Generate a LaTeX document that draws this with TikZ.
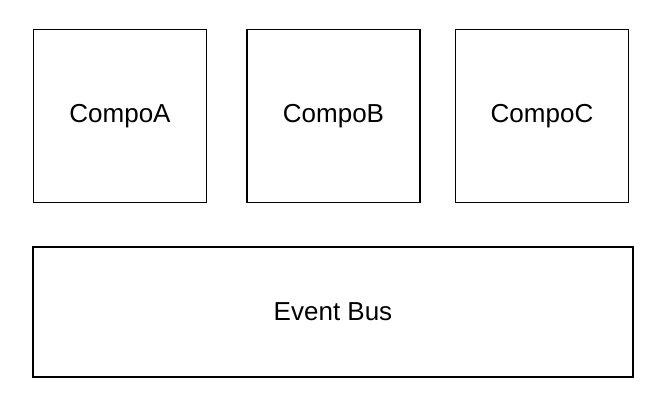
\documentclass[tikz,border=0pt]{standalone}
\usepackage{fontspec}
\setmainfont{Liberation Sans}
\usetikzlibrary{positioning}

\tikzset{compo/.style={draw,line width=1.8pt,minimum width=173pt,minimum height=173pt,
  font=\fontsize{26}{30}\selectfont,inner sep=0pt}}

\begin{document}
\begin{tikzpicture}[x=1pt,y=-1pt]
\useasboundingbox (0,0) rectangle (670,420);

\node[compo] (compoA) at (120,116) {CompoA};
\node[compo] (compoB) at (333.5,116) {CompoB};
\node[compo] (compoC) at (542,116) {CompoC};

\node[compo,minimum width=600pt,minimum height=130pt] (bus) at (333,312) {Event Bus};
\end{tikzpicture}
\end{document}
